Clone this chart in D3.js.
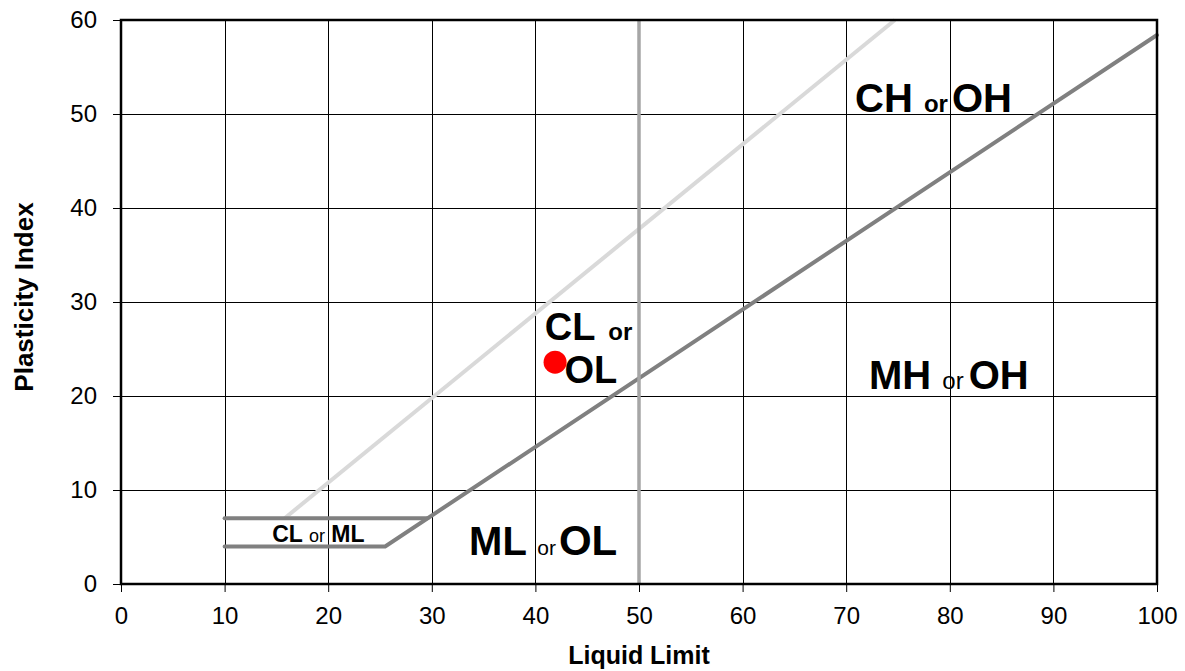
<!DOCTYPE html>
<html><head><meta charset="utf-8">
<script src="https://cdn.jsdelivr.net/npm/d3@7"></script>
<style>body{margin:0;background:#fff}svg{display:block}text{font-family:"Liberation Sans",Arial,sans-serif}</style>
</head><body><svg id="c" width="1185" height="671"></svg>
<script>
const xTicks = [0,10,20,30,40,50,60,70,80,90,100];
const yTicks = [0,10,20,30,40,50,60];
const aLineLL = [10, 25.5, 100];
const aLinePI = [4, 4, 58.4];
const upperLL = [10, 29.6];
const upperPI = [7, 7];
const uLineLL = [15.8, 74.7];
const uLinePI = [7, 60];
const llLineLL = [50, 50];
const llLinePI = [0, 60];
const sampleLL = [41.9];
const samplePI = [23.6];

const svg = d3.select("#c");
const x = d3.scaleLinear().domain([0,100]).range([121,1157]);
const y = d3.scaleLinear().domain([0,60]).range([584,20]);

// grid
const g = svg.append("g");
g.selectAll("line.v").data(xTicks.slice(1,-1)).join("line")
  .attr("x1",d=>Math.round(x(d))+0.5).attr("x2",d=>Math.round(x(d))+0.5)
  .attr("y1",y(0)).attr("y2",y(60)).attr("stroke","#000").attr("stroke-width",1);
g.selectAll("line.h").data(yTicks.slice(1,-1)).join("line")
  .attr("y1",d=>Math.round(y(d))+0.5).attr("y2",d=>Math.round(y(d))+0.5)
  .attr("x1",x(0)).attr("x2",x(100)).attr("stroke","#000").attr("stroke-width",1);

// axes
const xa = svg.append("g").attr("transform",`translate(0,${y(0)})`)
  .call(d3.axisBottom(x).tickValues(xTicks).tickSize(8).tickPadding(15).tickFormat(d3.format("d")));
const ya = svg.append("g").attr("transform",`translate(${x(0)},0)`)
  .call(d3.axisLeft(y).tickValues(yTicks).tickSize(8).tickPadding(16).tickFormat(d3.format("d")));
[xa,ya].forEach(a=>{
  a.select(".domain").remove();
  a.selectAll(".tick line").attr("stroke","#000").attr("stroke-width",1);
  a.selectAll(".tick text").attr("font-size",24).attr("fill","#000").attr("font-family","Liberation Sans, Arial, sans-serif");
});

const line = d3.line().x(d=>x(d[0])).y(d=>y(d[1]));
const zip = (a,b)=>a.map((v,i)=>[v,b[i]]);

svg.append("path").attr("d",line(zip(uLineLL,uLinePI))).attr("fill","none").attr("stroke","#d9d9d9").attr("stroke-width",4);
svg.append("path").attr("d",line(zip(upperLL,upperPI))).attr("fill","none").attr("stroke","#808080").attr("stroke-width",4).attr("stroke-linecap","round");
svg.append("path").attr("d",line(zip(aLineLL,aLinePI))).attr("fill","none").attr("stroke","#808080").attr("stroke-width",4).attr("stroke-linecap","round");
svg.append("path").attr("d",line(zip(llLineLL,llLinePI))).attr("fill","none").attr("stroke","#a6a6a6").attr("stroke-width",3.5);

// border
svg.append("rect").attr("x",x(0)).attr("y",y(60)).attr("width",x(100)-x(0)).attr("height",y(0)-y(60))
  .attr("fill","none").attr("stroke","#000").attr("stroke-width",2.5);

svg.selectAll("circle.s").data(zip(sampleLL,samplePI)).join("circle")
  .attr("cx",d=>x(d[0])).attr("cy",d=>y(d[1])).attr("r",11.5).attr("fill","#ff0000");

// labels: [text, size, bold, dx]
function lab(ll, pi, parts){
  const t = svg.append("text").attr("x",x(ll)).attr("y",y(pi)).attr("fill","#000");
  parts.forEach(p=>t.append("tspan").text(p[0]).attr("font-size",p[1])
    .attr("font-weight",p[2]?"bold":"normal").attr("dx",p[3]||0));
}
lab(70.85, 50.2, [["CH ",40,true],["or",24,true],["OH",40,true,4]]);
lab(72.2, 20.7, [["MH ",40,true],["or",24,false],["OH",40,true,5]]);
lab(33.6, 3.1, [["ML ",40,true],["or",21,false],["OL",42,true,3]]);
lab(40.9, 26.0, [["CL ",38,true],["or",24,true,3]]);
lab(42.8, 21.4, [["OL",38,true]]);
lab(14.6, 4.5, [["CL ",23,true],["or",18,false],[" ML",23,true]]);

svg.append("text").attr("x",(x(0)+x(100))/2).attr("y",664).attr("text-anchor","middle")
  .attr("font-size",25).attr("font-weight","bold").text("Liquid Limit");
svg.append("text").attr("transform",`translate(33,297) rotate(-90)`).attr("text-anchor","middle")
  .attr("font-size",26).attr("font-weight","bold").text("Plasticity Index");
</script></body></html>
